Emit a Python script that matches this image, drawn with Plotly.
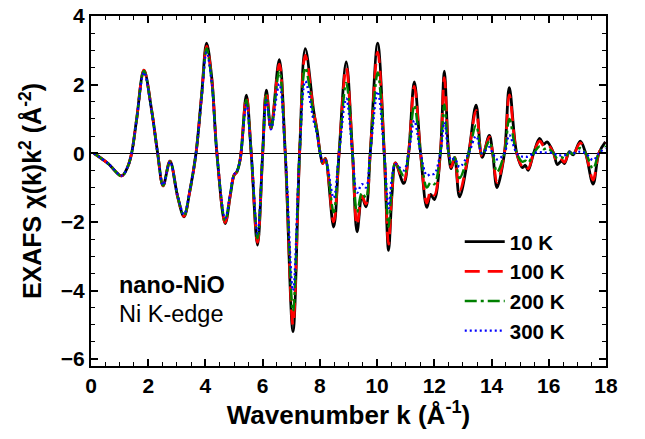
import plotly.graph_objects as go

# Wavenumber k (1/Å) at read-off key points
k = [0.10, 0.60, 1.07, 1.28, 1.42, 1.59, 1.85, 2.12, 2.33, 2.52, 2.76, 3.03, 3.25, 3.46,
     3.67, 3.87, 4.04, 4.22, 4.40, 4.69, 4.87, 5.00, 5.10, 5.22, 5.43, 5.60, 5.82, 6.00,
     6.13, 6.29, 6.58, 6.79, 7.06, 7.29, 7.49, 7.78, 7.90, 8.01, 8.10, 8.19, 8.48, 8.67,
     8.92, 9.14, 9.30, 9.47, 9.61, 9.76, 10.02, 10.25, 10.40, 10.52, 10.64, 10.93, 11.10,
     11.30, 11.52, 11.74, 11.87, 12.00, 12.21, 12.35, 12.50, 12.59, 12.71, 12.88, 13.20,
     13.46, 13.67, 13.92, 14.04, 14.19, 14.45, 14.62, 14.88, 15.08, 15.18, 15.28, 15.47,
     15.68, 15.82, 15.94, 16.17, 16.30, 16.45, 16.55, 16.72, 16.85, 17.10, 17.29, 17.55,
     17.75, 17.98]

chi_10K = [0, -0.30, -0.66, -0.40, 0, 0.96, 2.42, 1.25, 0, -0.95, -0.23, -1.27, -1.85, -1.08,
           0, 1.74, 3.21, 2.20, 0, -2.05, -1.22, -0.64, -0.54, -0.15, 1.69, 0, -2.68, 0,
           1.84, 0.72, 2.73, 0, -5.20, 0, 3.05, 1.25, 0.67, 0, -0.30, -0.15, -2.15, 0,
           2.66, 0, -2.29, -1.27, -1.56, 0, 3.21, 0, -2.83, -1.20, -0.28, -0.88, 0,
           2.08, 0, -1.58, -1.20, -1.35, 0, 2.39, 0, -0.45, -0.12, -1.27, 0,
           1.40, -0.12, 0.52, 0, -1.00, 0, 1.91, 0, -0.42, -0.35, -0.50, 0,
           0.43, 0.26, 0.33, 0, -0.33, -0.22, -0.30, 0.05, -0.05, 0.35, 0, -0.90,
           0, 0.33]

chi_100K = [0, -0.30, -0.66, -0.40, 0, 0.96, 2.42, 1.25, 0, -0.95, -0.23, -1.27, -1.84, -1.08,
            0, 1.72, 3.12, 2.15, 0, -2.02, -1.20, -0.64, -0.54, -0.15, 1.65, 0, -2.60, 0,
            1.80, 0.72, 2.60, 0, -5.00, 0, 2.85, 1.20, 0.65, 0, -0.30, -0.16, -2.00, 0,
            2.50, 0, -2.10, -1.25, -1.48, 0, 2.95, 0, -2.65, -1.10, -0.28, -0.80, 0,
            1.95, 0, -1.45, -1.10, -1.22, 0, 2.20, 0, -0.40, -0.12, -1.10, 0,
            1.25, -0.10, 0.48, 0, -0.85, 0, 1.70, 0, -0.38, -0.32, -0.45, 0,
            0.36, 0.22, 0.28, 0, -0.28, -0.19, -0.26, 0.05, -0.04, 0.30, 0, -0.78,
            0, 0.30]

chi_200K = [0, -0.30, -0.66, -0.40, 0, 0.96, 2.40, 1.24, 0, -0.94, -0.24, -1.26, -1.82, -1.07,
            0, 1.70, 3.05, 2.10, 0, -1.96, -1.18, -0.63, -0.53, -0.15, 1.55, 0, -2.48, 0,
            1.70, 0.72, 2.40, 0, -4.60, 0, 2.50, 1.10, 0.60, 0, -0.28, -0.18, -1.72, 0,
            2.05, 0, -1.72, -1.15, -1.30, 0, 2.35, 0, -2.15, -0.90, -0.30, -0.65, 0,
            1.40, 0, -1.00, -0.85, -0.90, 0, 1.42, 0, -0.30, -0.12, -0.72, 0,
            0.82, -0.05, 0.35, 0, -0.55, 0, 1.00, 0, -0.25, -0.22, -0.28, 0,
            0.20, 0.12, 0.15, 0, -0.16, -0.12, -0.15, 0.03, -0.02, 0.15, 0, -0.45,
            0, 0.22]

chi_300K = [0, -0.30, -0.65, -0.40, 0, 0.95, 2.36, 1.22, 0, -0.93, -0.25, -1.24, -1.78, -1.05,
            0, 1.66, 2.95, 2.05, 0, -1.90, -1.15, -0.62, -0.52, -0.15, 1.42, 0, -2.35, 0,
            1.55, 0.70, 2.02, 0, -4.00, 0, 2.10, 0.95, 0.55, 0, -0.25, -0.20, -1.30, 0,
            1.60, 0, -1.15, -0.90, -1.00, 0, 1.80, 0, -1.60, -0.70, -0.32, -0.50, 0,
            0.95, 0, -0.65, -0.60, -0.60, 0, 0.90, 0, -0.20, -0.15, -0.40, 0,
            0.50, 0.0, 0.18, 0, -0.18, 0, 0.53, 0, -0.10, -0.10, -0.10, 0,
            0.03, 0.02, 0.02, 0, -0.06, -0.06, -0.06, 0.02, 0.0, 0.05, 0, -0.20,
            0, 0.15]

series = [
    ("10 K", chi_10K, "black", "solid", 2.8),
    ("100 K", chi_100K, "#ff0000", "15px,8px", 2.8),
    ("200 K", chi_200K, "#008000", "12px,4px,3px,4px", 2.5),
    ("300 K", chi_300K, "#0000ff", "2px,3px", 2.3),
]

FONT = "Liberation Sans, Arial, sans-serif"

fig = go.Figure()
for name, y, color, dash, w in series:
    fig.add_trace(go.Scatter(x=k, y=y, mode="lines", name=name,
                             line=dict(color=color, dash=dash, width=w,
                                       shape="spline", smoothing=1.0)))

axis_common = dict(
    showline=True, linecolor="black", linewidth=2, mirror="allticks",
    ticks="inside", ticklen=7, tickwidth=1.5, tickcolor="black",
    showgrid=False, automargin=False,
    tickfont=dict(family=FONT, size=21, color="black", weight="bold"),
    minor=dict(ticks="inside", ticklen=4, tickwidth=1.2, tickcolor="black", dtick=0.5, showgrid=False),
)

fig.update_layout(
    width=645, height=439,
    margin=dict(l=91, r=39, t=16, b=73),
    paper_bgcolor="white", plot_bgcolor="white",
    showlegend=True,
    legend=dict(x=0.716, y=0.412, xanchor="left", yanchor="top",
                bgcolor="rgba(0,0,0,0)", borderwidth=0,
                font=dict(family=FONT, size=20.5, color="black", weight="bold"),
                tracegroupgap=0, itemwidth=40),
    annotations=[
        dict(x=0.05, y=0.232, xref="paper", yref="paper", xanchor="left", yanchor="middle",
             text="<b>nano-NiO</b>", showarrow=False,
             font=dict(family=FONT, size=23.5, color="black")),
        dict(x=0.05, y=0.150, xref="paper", yref="paper", xanchor="left", yanchor="middle",
             text="Ni K-edge", showarrow=False,
             font=dict(family=FONT, size=23.5, color="black")),
    ],
)

fig.update_xaxes(range=[0, 18], dtick=2, tick0=0,
                 title=dict(text="Wavenumber k (Å<sup>-1</sup>)", standoff=10,
                            font=dict(family=FONT, size=26, color="black", weight="bold")),
                 **axis_common)
fig.update_yaxes(range=[-6.2, 4.0], dtick=2, tick0=0,
                 zeroline=True, zerolinecolor="black", zerolinewidth=1.2,
                 title=dict(text="EXAFS χ(k)k<sup>2</sup> (Å<sup>-2</sup>)", standoff=12,
                            font=dict(family=FONT, size=25, color="black", weight="bold")),
                 **axis_common)

fig.write_html("out.html", config={"displayModeBar": False},
               post_script="document.body.style.margin='0';document.body.style.overflow='hidden';")
